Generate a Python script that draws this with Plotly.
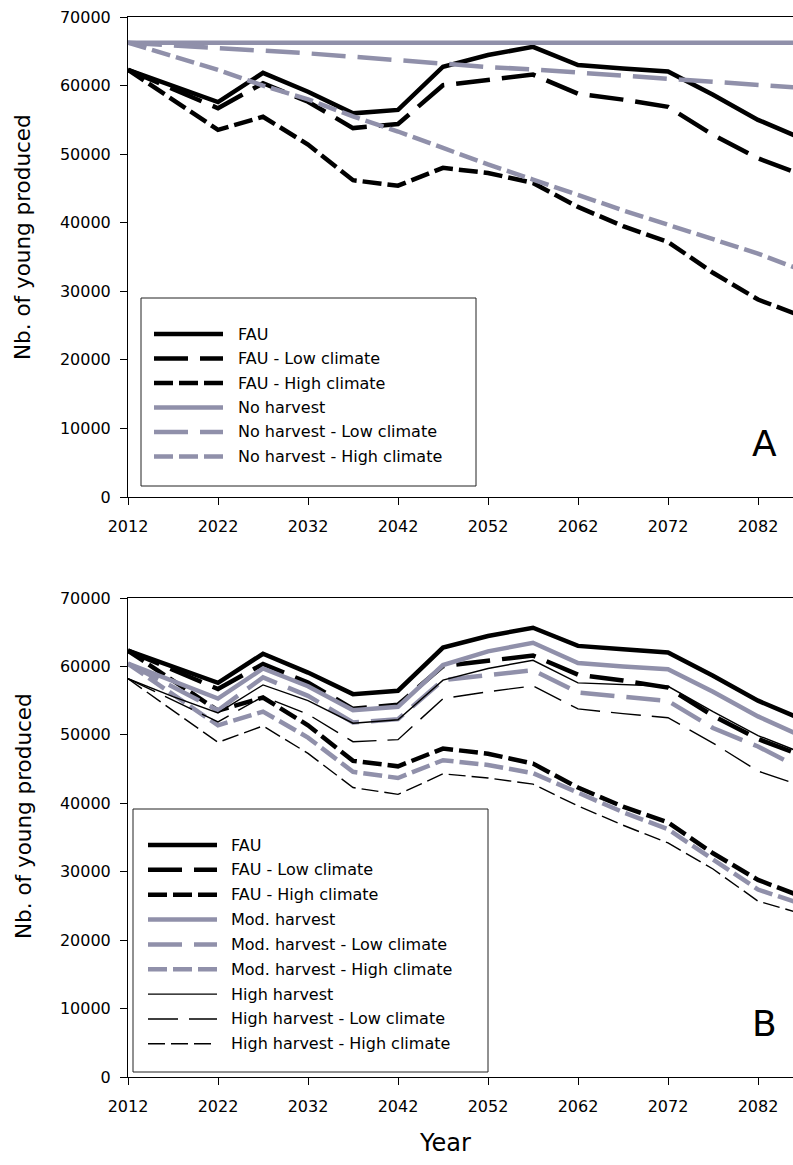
import plotly.graph_objects as go

# Simulation years (5-year steps)
years = [2012, 2017, 2022, 2027, 2032, 2037, 2042, 2047, 2052, 2057, 2062, 2067, 2072, 2077, 2082, 2087]
year_ticks = [2012, 2022, 2032, 2042, 2052, 2062, 2072, 2082]
value_ticks = [0, 10000, 20000, 30000, 40000, 50000, 60000, 70000]

# Number of young produced per scenario
fau = [62300, 59900, 57600, 61850, 59100, 55950, 56450, 62750, 64450, 65650, 63000, 62500, 62050, 58650, 55000, 52200]
fau_low = [62300, 59500, 56700, 60350, 57650, 53800, 54400, 60050, 60800, 61600, 58800, 57950, 56900, 52800, 49400, 46900]
fau_high = [62300, 57900, 53550, 55450, 51400, 46200, 45400, 48000, 47250, 45800, 42300, 39500, 37200, 32700, 28800, 26300]

no_harvest = [66250, 66250, 66250, 66250, 66250, 66250, 66250, 66250, 66250, 66250, 66250, 66250, 66250, 66250, 66250, 66250]
no_harvest_low = [66250, 65900, 65500, 65100, 64700, 64200, 63700, 63100, 62700, 62350, 61900, 61400, 60850, 60450, 60100, 59650]
no_harvest_high = [66250, 64300, 62300, 60000, 58000, 55500, 53300, 50900, 48500, 46300, 44000, 41800, 39700, 37600, 35500, 33000]

mod_harvest = [60400, 57800, 55300, 59700, 57100, 53600, 54100, 60200, 62200, 63450, 60500, 60000, 59600, 56300, 52700, 49700]
mod_harvest_low = [60400, 57000, 53600, 58400, 55700, 51800, 52300, 58000, 58800, 59450, 56200, 55600, 54950, 51000, 48300, 44900]
mod_harvest_high = [60400, 55800, 51400, 53400, 49600, 44600, 43700, 46300, 45600, 44400, 41500, 38700, 36200, 31800, 27400, 25200]

high_harvest = [58200, 55600, 53200, 57300, 55000, 51700, 52200, 58000, 59700, 60900, 57600, 57400, 57100, 53400, 49900, 47300]
high_harvest_low = [58200, 55000, 51900, 55600, 53000, 49000, 49300, 55300, 56300, 57150, 53800, 53100, 52500, 48800, 44700, 42500]
high_harvest_high = [58200, 53500, 48900, 51300, 47300, 42300, 41300, 44300, 43700, 42800, 39600, 36800, 34200, 30400, 25700, 23800]

# ---- page geometry (pixels) ----
W, H = 793, 1165
ML, MR, MT, MB = 128, 0, 17, 88
PW = W - ML - MR
PH = H - MT - MB
A_BOTTOM, A_TOP = 497, 17
B_BOTTOM, B_TOP = 1077, 598
PX_PER_YEAR = 9.0


def px_x(X):
    return (X - ML) / PW


def px_y(Y):
    return (H - MB - Y) / PH


FONT = "DejaVu Sans"
BLACK = "#000000"
GRAY = "#9090aa"
THICK = 4.5
THIN = 1.4
SOLID = "solid"
LONG = "34px,12px"
SHORT = "19px,6px"
THIN_LONG = "30px,11px"
THIN_SHORT = "17px,6px"

panel_a = [
    ("FAU", fau, BLACK, THICK, SOLID),
    ("FAU - Low climate", fau_low, BLACK, THICK, LONG),
    ("FAU - High climate", fau_high, BLACK, THICK, SHORT),
    ("No harvest", no_harvest, GRAY, THICK, SOLID),
    ("No harvest - Low climate", no_harvest_low, GRAY, THICK, LONG),
    ("No harvest - High climate", no_harvest_high, GRAY, THICK, SHORT),
]

panel_b = [
    ("FAU", fau, BLACK, THICK, SOLID),
    ("FAU - Low climate", fau_low, BLACK, THICK, LONG),
    ("FAU - High climate", fau_high, BLACK, THICK, SHORT),
    ("Mod. harvest", mod_harvest, GRAY, THICK, SOLID),
    ("Mod. harvest - Low climate", mod_harvest_low, GRAY, THICK, LONG),
    ("Mod. harvest - High climate", mod_harvest_high, GRAY, THICK, SHORT),
    ("High harvest", high_harvest, BLACK, THIN, SOLID),
    ("High harvest - Low climate", high_harvest_low, BLACK, THIN, THIN_LONG),
    ("High harvest - High climate", high_harvest_high, BLACK, THIN, THIN_SHORT),
]

fig = go.Figure()

for name, vals, color, width, dash in panel_a:
    fig.add_trace(go.Scatter(x=years, y=vals, mode="lines", name=name, showlegend=False,
                             line=dict(color=color, width=width, dash=dash),
                             xaxis="x", yaxis="y"))

for name, vals, color, width, dash in panel_b:
    fig.add_trace(go.Scatter(x=years, y=vals, mode="lines", name=name, showlegend=False,
                             line=dict(color=color, width=width, dash=dash),
                             xaxis="x2", yaxis="y2"))

shapes = []
annotations = []


def draw_legend(entries, box, line_x0, line_x1, text_x, row_y0, row_step):
    x0, y0, x1, y1 = box
    shapes.append(dict(type="rect", xref="paper", yref="paper",
                       x0=px_x(x0), x1=px_x(x1), y0=px_y(y1), y1=px_y(y0),
                       line=dict(color="#222222", width=1), fillcolor="white", layer="above"))
    for i, (name, _, color, width, dash) in enumerate(entries):
        yy = row_y0 + i * row_step
        shapes.append(dict(type="line", xref="paper", yref="paper",
                           x0=px_x(line_x0), x1=px_x(line_x1), y0=px_y(yy), y1=px_y(yy),
                           line=dict(color=color, width=width, dash=dash), layer="above"))
        annotations.append(dict(text=name, xref="paper", yref="paper",
                                x=px_x(text_x), y=px_y(yy), xanchor="left", yanchor="middle",
                                showarrow=False, font=dict(family=FONT, size=16, color="black")))


draw_legend(panel_a, (141, 298, 476, 486), 154, 223, 236, 334, 24.5)
draw_legend(panel_b, (133, 809, 488, 1072), 148, 217, 229, 845, 24.85)

# panel letters
annotations.append(dict(text="A", xref="paper", yref="paper", x=px_x(764), y=px_y(443),
                        xanchor="center", yanchor="middle", showarrow=False,
                        font=dict(family=FONT, size=36, color="black")))
annotations.append(dict(text="B", xref="paper", yref="paper", x=px_x(764), y=px_y(1023),
                        xanchor="center", yanchor="middle", showarrow=False,
                        font=dict(family=FONT, size=36, color="black")))

# axis titles
for cy in (237, 816):
    annotations.append(dict(text="Nb. of young produced", xref="paper", yref="paper",
                            x=px_x(23), y=px_y(cy), xanchor="center", yanchor="middle",
                            textangle=-90, showarrow=False,
                            font=dict(family=FONT, size=21.5, color="black")))
annotations.append(dict(text="Year", xref="paper", yref="paper", x=px_x(445), y=px_y(1143),
                        xanchor="center", yanchor="middle", showarrow=False,
                        font=dict(family=FONT, size=24, color="black")))

x_range = [2012, 2012 + PW / PX_PER_YEAR]
tickfont = dict(family=FONT, size=16, color="black")
common = dict(showline=True, linecolor="black", linewidth=1, ticks="outside", ticklen=7,
              tickwidth=1, tickcolor="black", showgrid=False, zeroline=False, tickfont=tickfont)

xaxis = dict(common, range=x_range, tickvals=year_ticks, mirror=True, ticklabelstandoff=8)
yaxis = dict(common, range=[0, 70000], tickvals=value_ticks, tickformat="d", ticklabelstandoff=6)

fig.update_layout(
    width=W, height=H,
    margin=dict(l=ML, r=MR, t=MT, b=MB),
    paper_bgcolor="white", plot_bgcolor="white",
    showlegend=False,
    xaxis=dict(xaxis, anchor="y", domain=[0, 1]),
    yaxis=dict(yaxis, anchor="x", domain=[px_y(A_BOTTOM), px_y(A_TOP)]),
    xaxis2=dict(xaxis, anchor="y2", domain=[0, 1]),
    yaxis2=dict(yaxis, anchor="x2", domain=[px_y(B_BOTTOM), px_y(B_TOP)]),
    shapes=shapes,
    annotations=annotations,
)

fig.write_html("out.html")
